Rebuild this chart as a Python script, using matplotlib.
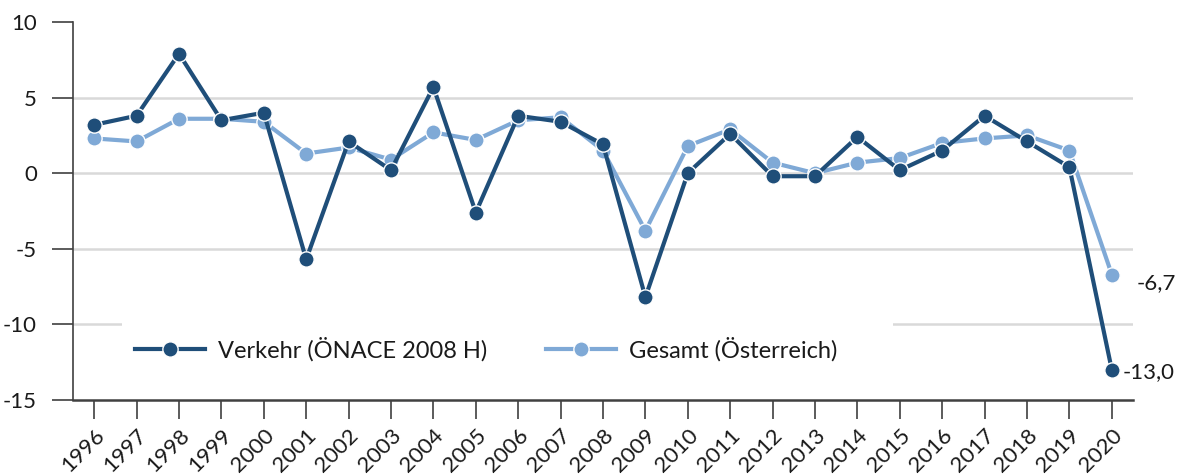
import matplotlib
matplotlib.use("Agg")
import matplotlib.pyplot as plt
from matplotlib.patches import Rectangle
import numpy as np

years = [str(y) for y in range(1996, 2021)]
verkehr = [3.2, 3.8, 7.9, 3.5, 4.0, -5.7, 2.1, 0.2, 5.7, -2.6, 3.8, 3.4, 1.9,
           -8.2, 0.0, 2.6, -0.2, -0.2, 2.4, 0.2, 1.5, 3.8, 2.1, 0.4, -13.0]
gesamt = [2.3, 2.1, 3.6, 3.6, 3.4, 1.3, 1.7, 0.9, 2.7, 2.2, 3.5, 3.7, 1.5,
          -3.8, 1.8, 2.9, 0.7, 0.0, 0.7, 1.0, 2.0, 2.3, 2.5, 1.5, -6.7]
labels_verkehr = "Verkehr (ÖNACE 2008 H)"
labels_gesamt = "Gesamt (Österreich)"
yticks = [10, 5, 0, -5, -10, -15]

plt.rcParams['font.family'] = ['Lato', 'DejaVu Sans']

dark = '#1F4E79'
light = '#7FA9D6'
txt = '#1a1a1a'

fig = plt.figure(figsize=(11.89, 4.76), dpi=100)
ax = fig.add_axes([73/1189, 1-400/476, (1133-73)/1189, (400-22)/476])
x = np.arange(len(years))

for yv in [5, 0, -5, -10]:
    ax.axhline(yv, color='#D9D9D9', lw=1.8, zorder=0)

# white legend background hiding the gridline
ax.add_patch(Rectangle((49/1060, 15/378), 771/1060, 69/378, transform=ax.transAxes,
                       facecolor='white', edgecolor='none', zorder=1))

ax.plot(x, gesamt, color=light, lw=3, marker='o', ms=11, mfc=light,
        mec='white', mew=1, label=labels_gesamt, zorder=3)
ax.plot(x, verkehr, color=dark, lw=3, marker='o', ms=11, mfc=dark,
        mec='white', mew=1, label=labels_verkehr, zorder=4)

ax.set_xlim(-0.5, len(years) - 0.5)
ax.set_ylim(-15, 10)
ax.set_yticks(yticks)
ax.set_yticklabels([str(v) for v in yticks], fontsize=16, color=txt)
ax.set_xticks(x)
ax.set_xticklabels(years, rotation=45, ha='right', rotation_mode='anchor',
                   fontsize=16, color=txt)
ax.tick_params(axis='y', length=15, width=1.2, color='#404040', pad=11)
ax.tick_params(axis='x', length=14, width=1.2, color='#404040', pad=4)

for s in ['top', 'right']:
    ax.spines[s].set_visible(False)
ax.spines['left'].set_color('#404040')
ax.spines['left'].set_linewidth(1.2)
ax.spines['bottom'].set_color('#404040')
ax.spines['bottom'].set_linewidth(1.8)

ax.annotate('-6,7', (x[-1], gesamt[-1]), xytext=(18, -6), textcoords='offset points',
            fontsize=16, va='center', ha='left', annotation_clip=False, color=txt)
ax.annotate('-13,0', (x[-1], verkehr[-1]), xytext=(8, -2), textcoords='offset points',
            fontsize=16, va='center', ha='left', annotation_clip=False, color=txt)

h, l = ax.get_legend_handles_labels()
leg = ax.legend(h[::-1], l[::-1], ncol=2, loc='center left',
                bbox_to_anchor=((135-73)/1060, (400-349)/378), frameon=False,
                fontsize=17, handlelength=2.95, columnspacing=2.5, borderpad=0,
                handletextpad=0.55, borderaxespad=0)
for t in leg.get_texts():
    t.set_color(txt)
leg.set_zorder(5)

fig.savefig('out.png', dpi=100)
